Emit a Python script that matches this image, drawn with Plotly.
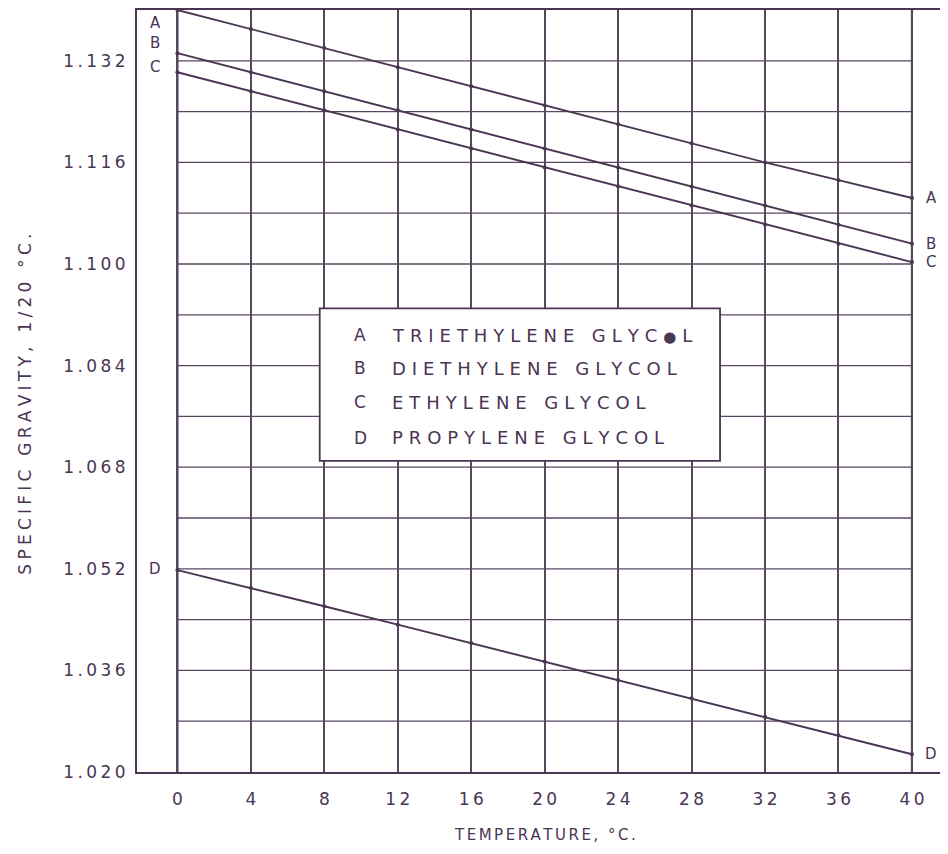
import plotly.graph_objects as go

# ---------------- data ----------------
temps = [0, 4, 8, 12, 16, 20, 24, 28, 32, 36, 40]
sg_triethylene = [1.1400, 1.1370, 1.1340, 1.1310, 1.1280, 1.1250, 1.1220, 1.1190, 1.1160, 1.1132, 1.1104]
sg_diethylene = [1.1332, 1.1302, 1.1272, 1.1242, 1.1212, 1.1182, 1.1152, 1.1122, 1.1092, 1.1062, 1.1032]
sg_ethylene = [1.1302, 1.1272, 1.1242, 1.1212, 1.1182, 1.1152, 1.1122, 1.1092, 1.1062, 1.1032, 1.1003]
sg_propylene = [1.0518, 1.0490, 1.0461, 1.0432, 1.0403, 1.0374, 1.0345, 1.0316, 1.0287, 1.0258, 1.0228]

series_codes = ["A", "B", "C", "D"]
series_names = ["TRIETHYLENE GLYC\u25CFL", "DIETHYLENE GLYCOL", "ETHYLENE GLYCOL", "PROPYLENE GLYCOL"]
series_values = [sg_triethylene, sg_diethylene, sg_ethylene, sg_propylene]

x_tick_vals = [0, 4, 8, 12, 16, 20, 24, 28, 32, 36, 40]
x_tick_text = ["0", "4", "8", "12", "16", "20", "24", "28", "32", "36", "40"]
y_tick_vals = [1.020, 1.036, 1.052, 1.068, 1.084, 1.100, 1.116, 1.132]
y_tick_text = ["1.020", "1.036", "1.052", "1.068", "1.084", "1.100", "1.116", "1.132"]
y_grid_vals = [1.028, 1.036, 1.044, 1.052, 1.060, 1.068, 1.076, 1.084, 1.092,
               1.100, 1.108, 1.116, 1.124, 1.132]

# left-strip label heights (stacked A/B/C above line starts)
left_label_y = [1.1380, 1.1348, 1.1310, 1.0519]

INK = "#4a3552"
GRID = "#574860"
FONT = "DejaVu Sans"


def spaced(s, sep="\u2009"):
    out = sep.join(list(s))
    # keep the blot in the key close to letter size
    return out.replace("\u25CF", '<span style="font-size:15px">\u25CF</span>')


fig = go.Figure()

for code, vals in zip(series_codes, series_values):
    fig.add_trace(go.Scatter(
        x=temps, y=vals, mode="lines+markers", name=code,
        line=dict(color=INK, width=1.9),
        marker=dict(color=INK, size=4),
        cliponaxis=False, showlegend=False, hoverinfo="x+y",
    ))

shapes = []
# horizontal grid between x=0 and x=40
for gy in y_grid_vals:
    shapes.append(dict(type="line", xref="x", yref="y", x0=x_tick_vals[0], x1=x_tick_vals[-1],
                       y0=gy, y1=gy, line=dict(color=GRID, width=1.3), layer="below"))
# heavier verticals at 0 and 40
for gx in (x_tick_vals[0], x_tick_vals[-1]):
    shapes.append(dict(type="line", xref="x", yref="y", x0=gx, x1=gx,
                       y0=1.020, y1=1.140, line=dict(color=INK, width=2.2), layer="below"))
# key box
shapes.append(dict(type="rect", xref="x", yref="y", x0=7.75, x1=29.55, y0=1.0690, y1=1.0930,
                   line=dict(color=INK, width=1.8), fillcolor="white", layer="above"))

annotations = []
key_rows_y = [1.0888, 1.08355, 1.07819, 1.07267]
for code, name, ry in zip(series_codes, series_names, key_rows_y):
    annotations.append(dict(x=9.95, y=ry, xref="x", yref="y", text=code, showarrow=False,
                            xanchor="center", yanchor="middle",
                            font=dict(family=FONT, size=17, color=INK)))
    annotations.append(dict(x=11.6, y=ry, xref="x", yref="y", text=spaced(name, "\u2004"),
                            showarrow=False, xanchor="left", yanchor="middle",
                            font=dict(family=FONT, size=18, color=INK)))

# end labels
for code, vals, ly in zip(series_codes, series_values, left_label_y):
    annotations.append(dict(x=-1.2, y=ly, xref="x", yref="y", text=code, showarrow=False,
                            xanchor="center", yanchor="middle",
                            font=dict(family=FONT, size=15, color=INK)))
    annotations.append(dict(x=41.05, y=vals[-1], xref="x", yref="y", text=code, showarrow=False,
                            xanchor="center", yanchor="middle",
                            font=dict(family=FONT, size=15, color=INK)))

# axis titles
annotations.append(dict(x=0.505, y=-0.083, xref="paper", yref="paper",
                        text=spaced("TEMPERATURE, °C.", "\u2006"), showarrow=False,
                        xanchor="center", yanchor="middle",
                        font=dict(family=FONT, size=15, color=INK)))
annotations.append(dict(x=-0.139, y=0.483, xref="paper", yref="paper",
                        text=spaced("SPECIFIC GRAVITY, 1/20 °C.", "\u2005"), showarrow=False,
                        textangle=-90, xanchor="center", yanchor="middle",
                        font=dict(family=FONT, size=17, color=INK)))

# the page body adds an 8px offset, so the figure is 8px smaller and margins compensate
fig.update_layout(
    width=940, height=846,
    margin=dict(l=129, r=3, t=2, b=82, autoexpand=False),
    paper_bgcolor="white", plot_bgcolor="white",
    shapes=shapes, annotations=annotations,
    xaxis=dict(range=[-2.2, 41.8], tickvals=x_tick_vals,
               ticktext=[spaced(t, "\u2009") for t in x_tick_text],
               showgrid=True, gridcolor=GRID, gridwidth=1.5, zeroline=False,
               showline=True, mirror=True, linecolor=INK, linewidth=2,
               ticks="", ticklabelstandoff=11, automargin=False,
               tickfont=dict(family=FONT, size=17, color=INK)),
    yaxis=dict(range=[1.020, 1.140], tickvals=y_tick_vals,
               ticktext=[spaced(t, "\u2009") for t in y_tick_text],
               showgrid=False, zeroline=False,
               showline=True, mirror=True, linecolor=INK, linewidth=2,
               ticks="", ticklabelstandoff=6, automargin=False,
               tickfont=dict(family=FONT, size=17, color=INK)),
)

fig.write_html("out.html")
